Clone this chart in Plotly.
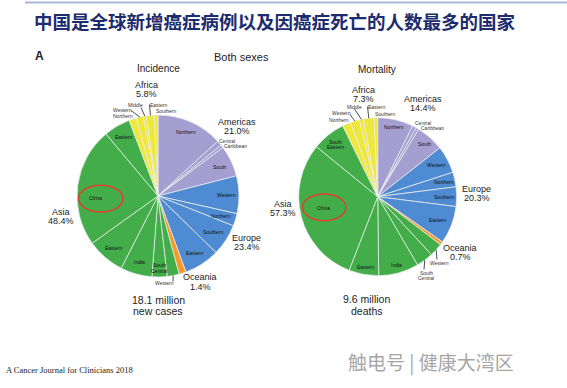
import math
import plotly.graph_objects as go

W, H = 567, 388

# ---------------- data ----------------
region_of_slice = ["Americas"] * 4 + ["Europe"] * 4 + ["Oceania"] + ["Asia"] * 6 + ["Africa"] * 5
subregions_inc = ["Northern", "Central", "Caribbean", "South",
                  "Western", "Northern", "Southern", "Eastern",
                  "Oceania",
                  "Western", "South Central", "India", "Eastern", "China", "Eastern",
                  "Northern", "Western", "Middle", "Eastern", "Southern"]
subregions_mort = ["Northern", "Central", "Caribbean", "South",
                   "Western", "Northern", "Southern", "Eastern",
                   "Oceania",
                   "Western", "South Central", "India", "Eastern", "China", "South Eastern",
                   "Northern", "Western", "Middle", "Eastern", "Southern"]
incidence_pct = [13.2, 1.0, 0.6, 6.2,
                 7.5, 2.5, 6.3, 7.1,
                 1.4,
                 2.4, 3.0, 6.3, 7.6, 23.8, 5.3,
                 1.5, 1.4, 0.6, 1.6, 0.7]
mortality_pct = [7.3, 0.8, 0.6, 5.7,
                 5.6, 3.0, 4.0, 7.7,
                 0.7,
                 2.7, 3.5, 8.2, 6.1, 30.0, 6.8,
                 1.7, 1.9, 0.8, 2.2, 0.7]
region_names = ["Africa", "Americas", "Asia", "Europe", "Oceania"]
incidence_total = "18.1 million"
incidence_caption = "new cases"
mortality_total = "9.6 million"
mortality_caption = "deaths"
title_text = "中国是全球新增癌症病例以及因癌症死亡的人数最多的国家"
panel_letter = "A"
panel_title = "Both sexes"
pie_titles = ["Incidence", "Mortality"]
source_text = "A Cancer Journal for Clinicians 2018"
watermark_text = "触电号 | 健康大湾区"

# ---------------- styles / layout ----------------
SANS = "Liberation Sans, Arial, sans-serif"
region_colors = {"Americas": "#a59ed0", "Europe": "#4e8bd2", "Oceania": "#f39a2c",
                 "Asia": "#43ad4a", "Africa": "#efe83c"}
PIES = {
    "inc": dict(cx=158.0, cy=196.0, r=81.0),
    "mort": dict(cx=377.7, cy=196.7, r=79.0),
}
# inside labels: slice index -> radial fraction
INSIDE = {
    "inc": {0: 0.86, 3: 0.84, 4: 0.84, 5: 0.82, 6: 0.82, 7: 0.84,
            10: 0.89, 11: 0.85, 12: 0.84, 13: 0.78, 14: 0.84},
    "mort": {0: 0.91, 3: 0.89, 4: 0.84, 5: 0.86, 6: 0.85, 7: 0.81,
             11: 0.9, 12: 0.9, 13: 0.7, 14: 0.85},
}
NUDGE = {("inc", 13): (0, 10), ("mort", 13): (-1, -3)}
# outside labels: slice index -> (x, y, anchor, leader end or None)
OUTSIDE = {
    "inc": {1: (227, 140.5, "center", None), 2: (235, 146, "center", None),
            9: (164.5, 283, "center", (173, 281.5)),
            15: (123, 115.5, "center", None), 16: (122.5, 110, "center", (131, 110.5)),
            17: (135, 105.5, "center", (141, 107.5)), 18: (158.5, 105.5, "center", (149.5, 104.5)),
            19: (166.5, 111, "center", None)},
    "mort": {1: (422.5, 123, "center", None), 2: (432, 128, "center", None),
             9: (439, 263, "center", (437, 259.5)), 10: (426, 272.5, "center", (424, 269.5)),
             15: (338.5, 119.5, "center", None), 16: (341.5, 112.5, "center", (350, 114.5)),
             17: (354, 106.5, "center", (354.5, 109)), 18: (376.5, 106.5, "center", (367.5, 106.5)),
             19: (385.5, 114, "center", None)},
}
BIG = {
    "inc": {"Africa": (146.7, 85.3, 9), "Americas": (236.7, 121.7, 9), "Asia": (60.7, 211.7, 9),
            "Europe": (246.7, 238.3, 9), "Oceania": (200, 277.3, 9.3)},
    "mort": {"Africa": (363.3, 89.5, 9), "Americas": (423.3, 99, 9), "Asia": (282.7, 204.3, 9),
             "Europe": (476.7, 189.3, 9), "Oceania": (460, 248.3, 9)},
}
ELLIPSE_OFFSET = {"inc": (5.5, 0.5, 22.2, 13.4), "mort": (1, -0.5, 21.7, 13.4)}


def px(x):
    return x / W


def py(y):
    return 1 - y / H


annotations = []
shapes = []


def txt(x, y, s, size, color="#111", xanchor="center", family=SANS):
    annotations.append(dict(x=px(x), y=py(y), xref="paper", yref="paper", text=s,
                            showarrow=False, xanchor=xanchor, yanchor="middle",
                            font=dict(size=size, color=color, family=family)))


def line(x0, y0, x1, y1, color="#222", width=0.8):
    shapes.append(dict(type="line", xref="paper", yref="paper", x0=px(x0), y0=py(y0),
                       x1=px(x1), y1=py(y1), line=dict(color=color, width=width)))


def pt(g, frac, ang):
    a = math.radians(ang)
    return g["cx"] + frac * g["r"] * math.sin(a), g["cy"] - frac * g["r"] * math.cos(a)


fig = go.Figure()
for key, vals, subs in [("inc", incidence_pct, subregions_inc), ("mort", mortality_pct, subregions_mort)]:
    g = PIES[key]
    fig.add_trace(go.Pie(
        values=vals,
        labels=[f"{i}: {region_of_slice[i]} {subs[i]}" for i in range(len(vals))],
        sort=False, direction="clockwise", rotation=0,
        domain=dict(x=[px(g["cx"] - g["r"]), px(g["cx"] + g["r"])],
                    y=[py(g["cy"] + g["r"]), py(g["cy"] - g["r"])]),
        marker=dict(colors=[region_colors[r] for r in region_of_slice],
                    line=dict(color="rgba(236,236,236,0.95)", width=0.8)),
        textinfo="none", hoverinfo="skip", showlegend=False))

    total = sum(vals)
    cum = 0
    mids = []
    for v in vals:
        mids.append((cum + v / 2) / total * 360)
        cum += v

    for i, frac in INSIDE[key].items():
        x, y = pt(g, frac, mids[i])
        dx, dy = NUDGE.get((key, i), (0, 0))
        x, y = x + dx, y + dy
        words = subs[i].split(" ")
        n = len(words)
        for k, w in enumerate(words):
            txt(x, y + (k - (n - 1) / 2) * 5.2, w, 5, "#111")
        if subs[i] == "China":
            ox, oy, rx, ry = ELLIPSE_OFFSET[key]
            shapes.append(dict(type="circle", xref="paper", yref="paper",
                               x0=px(x + ox - rx), x1=px(x + ox + rx),
                               y0=py(y + oy + ry), y1=py(y + oy - ry),
                               line=dict(color="#e0402c", width=1.5)))

    for i, (x, y, anc, lead) in OUTSIDE[key].items():
        words = subs[i].split(" ")
        n = len(words)
        for k, w in enumerate(words):
            txt(x, y + k * 5.2, w, 5, "#333", anc)
        if lead is not None:
            ex, ey = pt(g, 1.0, mids[i])
            line(ex, ey, lead[0], lead[1])

    for reg in region_names:
        s = sum(v for v, r in zip(vals, region_of_slice) if r == reg)
        x, y, sp = BIG[key][reg]
        txt(x, y, reg, 9, "#222")
        txt(x, y + sp, f"{s:.1f}%", 9, "#222")

txt(158.3, 300, incidence_total, 10.5, "#222")
txt(158.3, 311, incidence_caption, 10.5, "#222")
txt(366.7, 299.3, mortality_total, 10.5, "#222")
txt(366.7, 311, mortality_caption, 10.5, "#222")
txt(158.3, 68.3, pie_titles[0], 10, "#222")
txt(377.3, 69, pie_titles[1], 10, "#222")
txt(241.7, 57.3, panel_title, 11, "#222")
txt(33, 56, f"<b>{panel_letter}</b>", 12, "#222", "left")
txt(275, 20.7, f"<b>{title_text}</b>", 18.5, "#1c2c6e", "center", "Noto Sans CJK SC")
txt(4, 370, source_text, 8.5, "#222", "left", "Liberation Serif, Times New Roman, serif")
txt(346, 362, watermark_text, 19, "#a6a6a6", "left", "Noto Sans CJK SC")

shapes.append(dict(type="line", xref="paper", yref="paper", x0=px(25), x1=1, y0=py(2.5), y1=py(2.5),
                   line=dict(color="#a8b8d4", width=2)))

fig.update_layout(width=W, height=H, margin=dict(l=0, r=0, t=0, b=0),
                  paper_bgcolor="white", plot_bgcolor="white",
                  annotations=annotations, shapes=shapes)
fig.write_html("out.html", config={"displayModeBar": False},
               post_script="document.body.style.margin='0';document.body.style.padding='0';")
